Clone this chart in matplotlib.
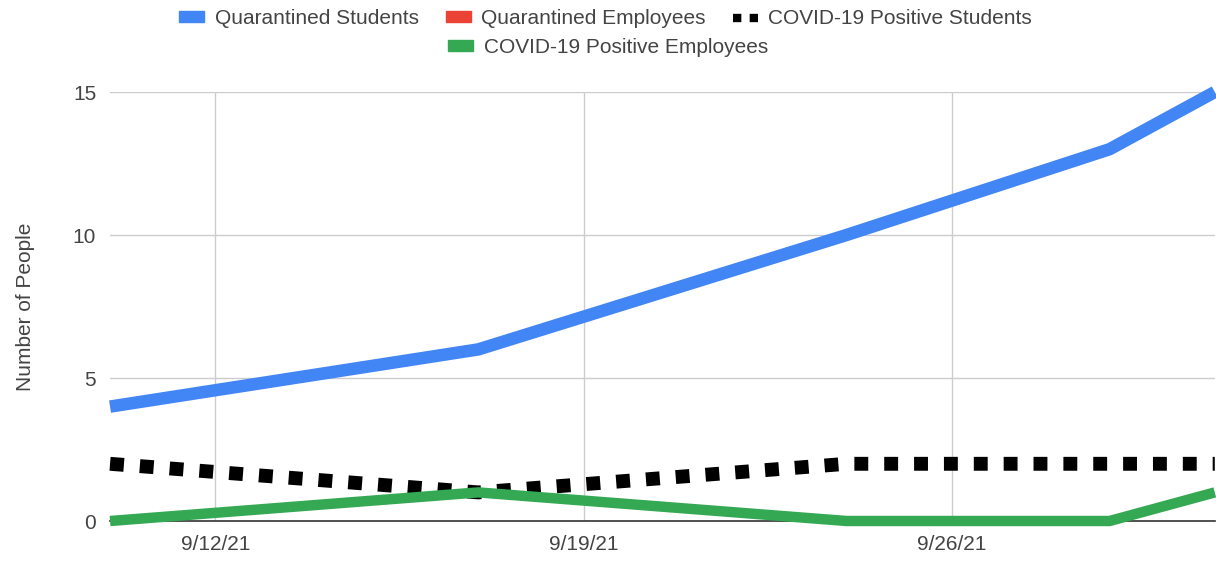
import numpy as np
import pandas as pd
import matplotlib
matplotlib.use("Agg")
import matplotlib.pyplot as plt
from matplotlib.lines import Line2D
from matplotlib.patches import Patch

# data
dates = pd.to_datetime(["2021-09-10", "2021-09-17", "2021-09-24", "2021-09-29", "2021-10-01"])
quarantined_students = [4, 6, 10, 13, 15]
quarantined_employees = [np.nan, np.nan, np.nan, np.nan, np.nan]  # no values shown
positive_students = [2, 1, 2, 2, 2]
positive_employees = [0, 1, 0, 0, 1]

tick_dates = pd.to_datetime(["2021-09-12", "2021-09-19", "2021-09-26"])
tick_labels = ["9/12/21", "9/19/21", "9/26/21"]
y_ticks = [0, 5, 10, 15]

blue = "#4285f4"
red = "#ea4335"
green = "#34a853"
text_col = "#444444"

plt.rcParams["font.family"] = ["Liberation Sans", "DejaVu Sans"]

fig = plt.figure(figsize=(12.16, 5.61), dpi=100)
ax = fig.add_axes([0.0905, 0.0713, 0.9085, 0.7647])

ax.plot(dates, quarantined_students, color=blue, lw=9, solid_joinstyle="miter",
        solid_capstyle="butt", clip_on=False, zorder=3)
ax.plot(dates, quarantined_employees, color=red, lw=7, solid_capstyle="butt",
        clip_on=False, zorder=3)
ax.plot(dates, positive_students, color="black", lw=10, linestyle=(0, (1.0, 1.15)),
        dash_capstyle="butt", clip_on=False, zorder=4)
ax.plot(dates, positive_employees, color=green, lw=7.5, solid_joinstyle="miter",
        solid_capstyle="butt", clip_on=False, zorder=5)

ax.set_xlim(dates[0], dates[-1])
ax.set_ylim(0, 15)
ax.set_xticks(tick_dates)
ax.set_xticklabels(tick_labels)
ax.set_yticks(y_ticks)
ax.grid(True, color="#cccccc", lw=1)
ax.set_axisbelow(True)
for s in ["top", "right", "left"]:
    ax.spines[s].set_visible(False)
ax.spines["bottom"].set_color("#333333")
ax.spines["bottom"].set_linewidth(1.2)
ax.spines["bottom"].set_zorder(2)
ax.tick_params(length=0, labelsize=15, labelcolor=text_col)
ax.tick_params(axis="x", pad=10)
ax.tick_params(axis="y", pad=10)
ax.set_ylabel("Number of People", fontsize=15, color=text_col, labelpad=27)

# legend in two centered rows
row1 = [Patch(color=blue), Patch(color=red),
        Line2D([0], [0], color="black", lw=6, linestyle=(0, (1, 1)), dash_capstyle="butt")]
row1_labels = ["Quarantined Students", "Quarantined Employees", "COVID-19 Positive Students"]
row2 = [Patch(color=green)]
row2_labels = ["COVID-19 Positive Employees"]

leg_kw = dict(frameon=False, fontsize=15, handlelength=1.2, handleheight=0.45,
              handletextpad=0.5, columnspacing=1.3, labelcolor=text_col, loc="center")
fig.legend(row1, row1_labels, ncol=3, bbox_to_anchor=(0.498, 0.967), **leg_kw)
fig.legend(row2, row2_labels, ncol=1, bbox_to_anchor=(0.5, 0.915), **leg_kw)

fig.savefig("out.png", dpi=100)
